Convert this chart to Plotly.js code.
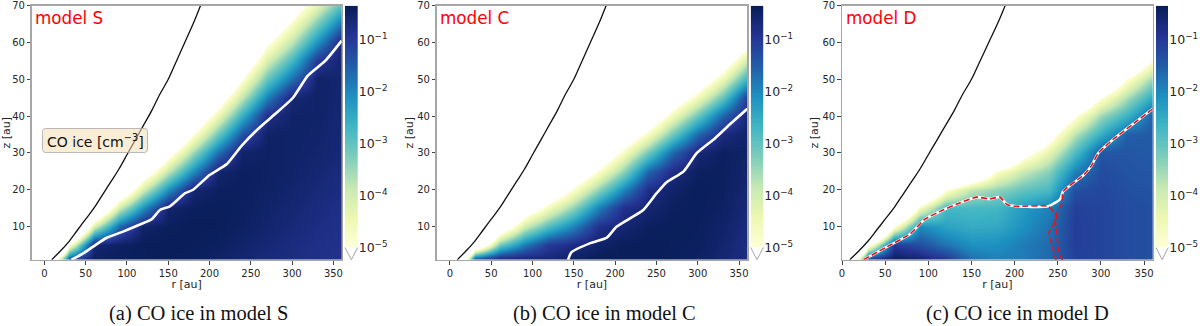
<!DOCTYPE html>
<html>
<head>
<meta charset="utf-8">
<script src="https://cdn.plot.ly/plotly-3.0.1.min.js"></script>
<style>
  html, body { margin: 0; padding: 0; background: #fff; }
  #plot { width: 1200px; height: 326px; }
</style>
</head>
<body>
<div id="plot"></div>
<script>
const rCols = [0, 15, 30, 60, 90, 120, 150, 180, 210, 240, 270, 300, 330, 360];
const zRows = [1, 5, 10, 15, 20, 25, 30, 35, 40, 45, 50, 55, 60, 65, 70];

// log10 of CO ice density, one row per zRows entry
const iceS = [
  [-12, -4.5, -1.1, -.45, -.4, -.38, -.38, -.4, -.5, -.6, -.68, -.75, -.82, -.85],
  [-12, -12, -5, -.6, -.45, -.38, -.36, -.38, -.42, -.52, -.62, -.72, -.8, -.85],
  [-12, -20, -9.9, -4, -1.6, -.5, -.4, -.36, -.38, -.45, -.55, -.65, -.75, -.82],
  [-12, -20, -12, -7.4, -4, -2.1, -.55, -.4, -.38, -.42, -.5, -.6, -.7, -.8],
  [-12, -20, -12, -10.8, -6.5, -4, -2.1, -.6, -.42, -.42, -.46, -.55, -.65, -.75],
  [-12, -20, -12, -12, -9, -5.9, -3.8, -2.05, -.55, -.42, -.45, -.5, -.6, -.7],
  [-12, -20, -12, -12, -12, -7.8, -5.5, -3.5, -1.7, -.5, -.45, -.5, -.55, -.65],
  [-12, -20, -12, -12, -12, -9.7, -7.2, -5, -3.05, -1.33, -.48, -.48, -.52, -.62],
  [-12, -20, -12, -12, -12, -12, -8.9, -6.4, -4.45, -2.55, -.82, -.5, -.5, -.6],
  [-12, -20, -12, -12, -12, -12, -12, -7.9, -5.8, -3.8, -1.9, -.6, -.5, -.58],
  [-12, -20, -12, -12, -12, -12, -12, -9.3, -7.2, -5, -3, -1.65, -.5, -.55],
  [-12, -20, -12, -12, -12, -12, -12, -12, -8.6, -6.2, -4.1, -2.7, -1, -.55],
  [-12, -20, -12, -12, -12, -12, -12, -12, -12, -7.4, -5.2, -3.75, -2.1, -.6],
  [-12, -20, -12, -12, -12, -12, -12, -12, -12, -8.6, -6.3, -4.8, -3.2, -1.7],
  [-12, -20, -12, -12, -12, -12, -12, -12, -12, -12, -7.4, -5.85, -4.3, -2.8]
];
const iceC = [
  [-12, -6, -1, -.55, -.55, -.6, -.45, -.36, -.36, -.36, -.4, -.45, -.6, -.75],
  [-12, -14, -7, -3.15, -1.85, -1, -.75, -.5, -.38, -.36, -.38, -.42, -.55, -.75],
  [-12, -20, -12, -6.2, -3.95, -2.8, -1.9, -.85, -.6, -.42, -.38, -.4, -.5, -.7],
  [-12, -20, -12, -9.3, -6, -4.6, -3.37, -1.9, -.85, -.6, -.42, -.38, -.45, -.65],
  [-12, -20, -12, -12, -8, -6.4, -4.85, -3.37, -1.97, -.8, -.5, -.38, -.42, -.6],
  [-12, -20, -12, -12, -12, -8.2, -6.3, -4.85, -3.35, -1.6, -.75, -.42, -.42, -.55],
  [-12, -20, -12, -12, -12, -12, -7.8, -6.3, -4.7, -3.15, -1.6, -.65, -.42, -.5],
  [-12, -20, -12, -12, -12, -12, -12, -7.8, -6.1, -4.7, -3.07, -1.6, -.7, -.5],
  [-12, -20, -12, -12, -12, -12, -12, -12, -7.5, -6.25, -4.55, -3.07, -1.57, -.6],
  [-12, -20, -12, -12, -12, -12, -12, -12, -12, -7.8, -6, -4.55, -3, -1],
  [-12, -20, -12, -12, -12, -12, -12, -12, -12, -9.4, -7.5, -6, -4.4, -2.5],
  [-12, -20, -12, -12, -12, -12, -12, -12, -12, -12, -9, -7.5, -5.9, -3.9],
  [-12, -20, -12, -12, -12, -12, -12, -12, -12, -12, -12, -9, -7.3, -5.6],
  [-12, -20, -12, -12, -12, -12, -12, -12, -12, -12, -12, -12, -8.8, -7.2],
  [-12, -20, -12, -12, -12, -12, -12, -12, -12, -12, -12, -12, -12, -8.7]
];
const iceD = [
  [-12, -5, -.8, -.4, -.55, -.95, -1.7, -1.9, -1.85, -1.6, -1.1, -1.15, -1.25, -1.3],
  [-12, -14, -5.5, -1, -1.3, -1.75, -2.1, -2.1, -1.85, -1.65, -1.05, -1.15, -1.25, -1.3],
  [-12, -25, -12, -5, -2, -2.35, -2.5, -2.45, -2.1, -1.75, -1.05, -1.15, -1.25, -1.3],
  [-12, -25, -15, -9, -4.6, -2.75, -2.75, -2.7, -2.25, -1.9, -1.1, -1.15, -1.25, -1.3],
  [-12, -25, -15, -12, -8, -5, -3.8, -3.4, -3, -2.75, -1.3, -1.2, -1.3, -1.35],
  [-12, -25, -15, -12, -11, -9, -7, -4.8, -3.9, -3.3, -1.9, -1.25, -1.35, -1.4],
  [-12, -25, -15, -12, -12, -12, -10, -8, -5.5, -4.3, -2.8, -1.4, -1.4, -1.45],
  [-12, -25, -15, -12, -12, -12, -12, -11, -8, -5.5, -3.7, -2.5, -1.5, -1.45],
  [-12, -25, -15, -12, -12, -12, -12, -12, -10, -7, -5.1, -3.5, -2.6, -1.5],
  [-12, -25, -15, -12, -12, -12, -12, -12, -12, -9, -7, -5, -3.6, -2.4],
  [-12, -25, -15, -12, -12, -12, -12, -12, -12, -12, -9, -7, -4.9, -3.4],
  [-12, -25, -15, -12, -12, -12, -12, -12, -12, -12, -12, -9, -7, -4.9],
  [-12, -25, -15, -12, -12, -12, -12, -12, -12, -12, -12, -12, -9, -7],
  [-12, -25, -15, -12, -12, -12, -12, -12, -12, -12, -12, -12, -12, -9],
  [-12, -25, -15, -12, -12, -12, -12, -12, -12, -12, -12, -12, -12, -12]
];

// black curve, same in all panels
const curveR = [9, 20, 30, 40, 50, 60, 70, 80, 90, 100, 110, 120, 130, 140, 150, 160, 170, 180, 189];
const curveZ = [1, 3.5, 6, 9, 12, 15, 18.5, 22, 25.5, 29.5, 33.5, 37.5, 41.5, 46, 50, 55, 60, 65, 70];

// white contours
const lineSR = [33, 47, 60, 75, 96, 115, 130, 140, 152, 170, 180, 200, 221, 239, 261, 279, 301, 319, 340, 360];
const lineSZ = [1, 2.7, 4.7, 6.9, 8.7, 10.5, 12, 14.5, 15.5, 19, 20, 24, 27, 32, 37, 40.5, 45, 51, 55, 60.5];
const lineCR = [143, 147, 170, 190, 202, 234, 250, 262, 283, 299, 321, 340, 360];
const lineCZ = [1, 3, 5.5, 7, 10, 14.5, 19, 22, 25, 30, 34, 38, 42];
const lineDR = [25, 56, 79, 96, 117, 137, 156, 171, 183, 191, 202, 239, 253, 256, 280, 289, 297, 316, 338, 360];
const lineDZ = [1, 5, 8, 12, 14.5, 16.5, 18, 17.5, 18, 16, 15.5, 15.5, 17.5, 19.5, 24, 26.5, 30, 34, 38, 42];

// red dashed contours of model D
const redAR = [25, 56, 79, 96, 117, 137, 156, 171, 183, 191, 202, 239, 247, 249, 240, 244, 249];
const redAZ = [1, 5, 8, 12, 14.5, 16.5, 18, 17.5, 18, 16, 15.5, 15.5, 13.5, 12, 8.5, 4.5, 0];
const redBR = [360, 338, 316, 297, 289, 280, 256, 255, 247, 249, 251, 257];
const redBZ = [42, 38, 34, 30, 26.5, 24, 19.5, 16.5, 12.5, 8, 3.5, 0];

const cbLevels = [-5, -4.5, -4, -3.5, -3, -2.5, -2, -1.5, -1, -.5, -.34];
const cbTicks = [-5, -4, -3, -2, -1];
const cbLabels = ["10<sup>−5</sup>", "10<sup>−4</sup>", "10<sup>−3</sup>", "10<sup>−2</sup>", "10<sup>−1</sup>"];
const ylgnbu = ["#ffffd9", "#edf8b1", "#c7e9b4", "#7fcdbb", "#41b6c4", "#1d91c0", "#225ea8", "#253494", "#081d58"];

const zLow = -6;
const zHigh = -.34;

const W = 1200;
const H = 326;

const colorscale = [[0, "#ffffff"], [.17, "#ffffff"]];
ylgnbu.forEach((c, i) => {
  const v = -5 + (zHigh + 5) * i / (ylgnbu.length - 1);
  colorscale.push([(v - zLow) / (zHigh - zLow), c]);
});

const panels = [
  { name: "model S", caption: "(a) CO ice in model S", ice: iceS, lr: lineSR, lz: lineSZ,
    left: 31.7, right: 341.7, cbLeft: 345, cbRight: 357.7, xMin: -15.3, capX: 198 },
  { name: "model C", caption: "(b) CO ice in model C", ice: iceC, lr: lineCR, lz: lineCZ,
    left: 436.7, right: 747.3, cbLeft: 750.7, cbRight: 763.3, xMin: -16, capX: 604 },
  { name: "model D", caption: "(c) CO ice in model D", ice: iceD, lr: lineDR, lz: lineDZ,
    left: 842, right: 1152.7, cbLeft: 1156, cbRight: 1168.3, xMin: 0, capX: 1017 }
];

const plotTop = 5.7;
const plotBottom = 259.7;
const cbBottom = 247.5;
const tickFont = { family: "DejaVu Sans", size: 10, color: "#262626" };
const titleFont = { family: "DejaVu Sans", size: 11, color: "#262626" };

const traces = [];
const layout = {
  width: W,
  height: H,
  margin: { l: 0, r: 0, t: 0, b: 0 },
  paper_bgcolor: "#ffffff",
  plot_bgcolor: "#ffffff",
  showlegend: false,
  shapes: [],
  annotations: []
};

panels.forEach((p, i) => {
  const xa = "x" + (i * 2 + 1);
  const ya = "y" + (i * 2 + 1);
  const xb = "x" + (i * 2 + 2);
  const yb = "y" + (i * 2 + 2);
  const axKey = s => (s === "x1" ? "xaxis" : s === "y1" ? "yaxis" : s.replace("x", "xaxis").replace("y", "yaxis"));

  traces.push({
    type: "heatmap", x: rCols, y: zRows, z: p.ice, xaxis: xa, yaxis: ya,
    zmin: zLow, zmax: zHigh, colorscale: colorscale, zsmooth: "best", showscale: false, hoverinfo: "skip"
  });
  traces.push({
    type: "scatter", mode: "lines", x: curveR, y: curveZ, xaxis: xa, yaxis: ya,
    line: { color: "#111111", width: 1.3, shape: "spline", smoothing: 1 }, hoverinfo: "skip"
  });
  traces.push({
    type: "scatter", mode: "lines", x: p.lr, y: p.lz, xaxis: xa, yaxis: ya,
    line: { color: "#ffffff", width: 2.6, shape: "spline", smoothing: .5 }, hoverinfo: "skip"
  });
  if (i === 2) {
    [[redAR, redAZ], [redBR, redBZ]].forEach(r => {
      traces.push({
        type: "scatter", mode: "lines", x: r[0], y: r[1], xaxis: xa, yaxis: ya,
        line: { color: "#e8141c", width: 1.6, dash: "6px,3px", shape: "spline", smoothing: .5 }, hoverinfo: "skip"
      });
    });
  }
  // colorbar strip is its own small heatmap
  traces.push({
    type: "heatmap", x: [0, 1], y: cbLevels, z: cbLevels.map(v => [v, v]), xaxis: xb, yaxis: yb,
    zmin: zLow, zmax: zHigh, colorscale: colorscale, zsmooth: "best", showscale: false, hoverinfo: "skip"
  });

  layout[axKey(xa)] = {
    domain: [p.left / W, p.right / W], range: [p.xMin, 360], anchor: ya,
    tickvals: [0, 50, 100, 150, 200, 250, 300, 350], ticks: "outside", ticklen: 3.5, tickwidth: 1, tickcolor: "#444",
    showgrid: false, zeroline: false, showline: true, mirror: true, linecolor: "#a6a6a6", linewidth: 1.3,
    tickfont: tickFont, title: { text: "r [au]", font: titleFont, standoff: 0 }
  };
  layout[axKey(ya)] = {
    domain: [1 - plotBottom / H, 1 - plotTop / H], range: [1, 70], anchor: xa,
    tickvals: [10, 20, 30, 40, 50, 60, 70], ticks: "outside", ticklen: 3.5, tickwidth: 1, tickcolor: "#444",
    showgrid: false, zeroline: false, showline: true, mirror: true, linecolor: "#a6a6a6", linewidth: 1.3,
    tickfont: tickFont, title: { text: "z [au]", font: titleFont, standoff: 1 }
  };
  layout[axKey(xb)] = {
    domain: [p.cbLeft / W, p.cbRight / W], range: [0, 1], anchor: yb,
    showticklabels: false, ticks: "", showgrid: false, zeroline: false, showline: false
  };
  layout[axKey(yb)] = {
    domain: [1 - cbBottom / H, 1 - plotTop / H], range: [-5, zHigh], anchor: xb, side: "right",
    tickvals: cbTicks, ticktext: cbLabels, ticks: "", showgrid: false, zeroline: false, showline: false,
    tickfont: { family: "DejaVu Sans", size: 12.5, color: "#262626" }
  };

  // extend triangle under the colorbar
  const l = p.cbLeft / W, rr = p.cbRight / W;
  const yT = 1 - cbBottom / H, yB = 1 - plotBottom / H;
  layout.shapes.push({
    type: "path", xref: "paper", yref: "paper",
    path: `M ${l} ${yT} L ${(l + rr) / 2} ${yB} L ${rr} ${yT}`,
    line: { color: "#a6a6a6", width: 1 }, fillcolor: "#ffffff"
  });

  layout.annotations.push({
    xref: "paper", yref: "paper", x: (p.left + 1.5) / W, y: 1 - 18 / H, xanchor: "left", yanchor: "middle",
    text: p.name, showarrow: false, font: { family: "DejaVu Sans", size: 16.8, color: "#ff0000" }
  });
  layout.annotations.push({
    xref: "paper", yref: "paper", x: p.capX / W, y: 1 - 313 / H, xanchor: "center", yanchor: "middle",
    text: p.caption, showarrow: false, font: { family: "Liberation Serif", size: 20.5, color: "#111111" }
  });
});

// label box in the first panel, rounded like a matplotlib bbox
const bx0 = 42.5, bx1 = 147.5, by0 = 128.5, by1 = 152.5, br = 3;
const px = v => v / W;
const py = v => 1 - v / H;
layout.shapes.push({
  type: "path", xref: "paper", yref: "paper",
  path: `M ${px(bx0 + br)} ${py(by0)} L ${px(bx1 - br)} ${py(by0)} Q ${px(bx1)} ${py(by0)} ${px(bx1)} ${py(by0 + br)} ` +
        `L ${px(bx1)} ${py(by1 - br)} Q ${px(bx1)} ${py(by1)} ${px(bx1 - br)} ${py(by1)} ` +
        `L ${px(bx0 + br)} ${py(by1)} Q ${px(bx0)} ${py(by1)} ${px(bx0)} ${py(by1 - br)} ` +
        `L ${px(bx0)} ${py(by0 + br)} Q ${px(bx0)} ${py(by0)} ${px(bx0 + br)} ${py(by0)} Z`,
  line: { color: "rgba(170,170,170,.8)", width: 1 }, fillcolor: "rgba(245,222,179,.55)", layer: "above"
});
layout.annotations.push({
  xref: "paper", yref: "paper", x: 95 / W, y: 1 - 140.5 / H, xanchor: "center", yanchor: "middle",
  text: "CO ice [cm<sup>−3</sup>]", showarrow: false, font: { family: "DejaVu Sans", size: 14, color: "#111111" }
});

Plotly.newPlot("plot", traces, layout, { displayModeBar: false, staticPlot: true });
</script>
</body>
</html>
